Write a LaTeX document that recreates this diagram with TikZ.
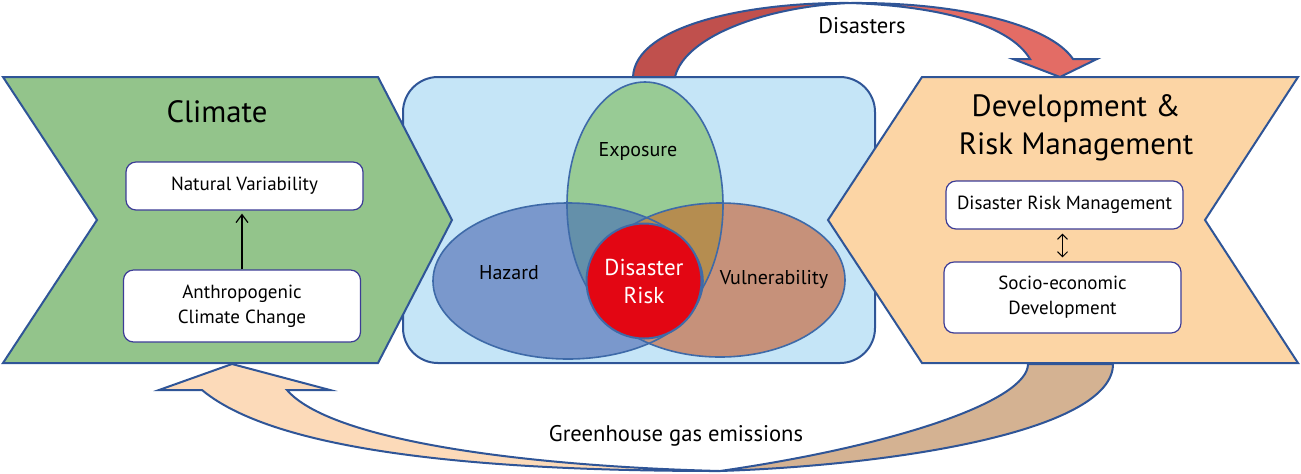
\documentclass[tikz,border=0pt]{standalone}
\usepackage{fontspec}
\setmainfont{PT Sans}
\usepackage{tikz}
\usetikzlibrary{arrows.meta}

\definecolor{edgeblue}{HTML}{2F5597}
\definecolor{vennedge}{HTML}{3E6AA8}
\definecolor{boxedge}{HTML}{3C3C96}
\definecolor{climgreen}{HTML}{93C48B}
\definecolor{devorange}{HTML}{FCD5A5}
\definecolor{riskblue}{HTML}{C5E5F7}
\definecolor{hazcol}{HTML}{7A98CC}
\definecolor{expcol}{HTML}{98CB95}
\definecolor{vulcol}{HTML}{C6917A}
\definecolor{hazexp}{HTML}{6490AA}
\definecolor{expvul}{HTML}{B58D50}
\definecolor{riskred}{HTML}{E30613}
\definecolor{disdark}{HTML}{C0504D}
\definecolor{dislight}{HTML}{E36C65}
\definecolor{ghgpeach}{HTML}{FCDAB9}
\definecolor{ghgtan}{HTML}{D4B292}

\begin{document}
\begin{tikzpicture}[x=0.5pt,y=-0.5pt,>={Straight Barb[length=4pt,width=6pt]},
  panel/.style={draw=edgeblue,line width=1pt,line join=miter},
  venn/.style={draw=vennedge,line width=0.8pt},
  factorbox/.style={draw=boxedge,fill=white,rounded corners=5pt,line width=0.6pt,
    minimum width=118.5pt,inner xsep=2pt,align=center,font=\fontsize{9.5}{12.5}\selectfont},
  vennlabel/.style={font=\fontsize{10}{12}\selectfont},
  title/.style={font=\fontsize{15.4}{19}\selectfont,align=center},
  flowlabel/.style={font=\fontsize{11.3}{13}\selectfont}]
  \useasboundingbox (0,0) rectangle (1301,473);
  % centre panel
  \draw[panel,fill=riskblue,rounded corners=17.5pt] (403,77) rectangle (875,363);
  % venn fills
  \fill[hazcol] (568,281) ellipse [x radius=135, y radius=78];
  \fill[vulcol] (720,280) ellipse [x radius=125, y radius=77];
  \fill[expcol] (645,205) ellipse [x radius=78, y radius=123];
  \begin{scope}
    \clip (568,281) ellipse [x radius=135, y radius=78];
    \fill[hazexp] (645,205) ellipse [x radius=78, y radius=123];
  \end{scope}
  \begin{scope}
    \clip (720,280) ellipse [x radius=125, y radius=77];
    \fill[expvul] (645,205) ellipse [x radius=78, y radius=123];
  \end{scope}
  % venn outlines
  \draw[venn] (568,281) ellipse [x radius=135, y radius=78];
  \draw[venn] (720,280) ellipse [x radius=125, y radius=77];
  \draw[venn] (645,205) ellipse [x radius=78, y radius=123];
  \node[vennlabel] (hazard) at (509,273) {Hazard};
  \node[vennlabel] (exposure) at (638,151) {Exposure};
  \node[vennlabel] (vulner) at (774,279) {Vulnerability};
  \node[circle,fill=riskred,draw=vennedge,line width=1pt,minimum size=57.5pt,inner sep=0pt,
    text=white,align=center,font=\fontsize{11.5}{14}\selectfont] (risk) at (644,281) {Disaster\\Risk};
  % side chevrons
  \draw[panel,fill=climgreen] (3,77) -- (378,77) -- (452,220) -- (378,363) -- (3,363) -- (97,220) -- cycle;
  \draw[panel,fill=devorange] (922,77) -- (1298,77) -- (1205,220) -- (1298,363) -- (922,363) -- (828,220) -- cycle;
  \node[title] (climate) at (217,112) {Climate};
  \node[title] (devrisk) at (1076,128) {Development \&\\Risk Management};
  % climate boxes
  \node[factorbox,minimum height=24pt] (natvar) at (244.5,186) {Natural Variability};
  \node[factorbox,minimum height=36pt] (anthro) at (242,306) {Anthropogenic\\Climate Change};
  \draw[->,line width=0.6pt,shorten >=1.5pt] (anthro.north) -- (anthro.north |- natvar.south);
  % development boxes
  \node[factorbox,minimum height=24pt] (drm) at (1064.5,205) {Disaster Risk Management};
  \node[factorbox,minimum height=35.5pt] (socio) at (1062.5,297.5) {Socio-economic\\Development};
  \draw[{Straight Barb[length=2.5pt,width=5pt]}-{Straight Barb[length=2.5pt,width=5pt]},line width=0.5pt,
    shorten <=2pt,shorten >=2pt] (socio.north) -- (socio.north |- drm.south);
  % disasters arrow
  \draw[panel,fill=disdark] (633,77) .. controls (635,25) and (750,2) .. (850,3)
    .. controls (770,6) and (685,35) .. (675,77) -- cycle;
  \draw[panel,fill=dislight] (850,3) .. controls (960,2) and (1050,25) .. (1073,59)
    -- (1097,59) -- (1060,77) -- (1013,59) -- (1030,59)
    .. controls (1010,25) and (940,6) .. (850,3) -- cycle;
  \node[flowlabel] (disasters) at (862,26) {Disasters};
  % greenhouse gas arrow
  \draw[panel,fill=ghgtan] (1113,364) .. controls (1113,430) and (900,465) .. (720,471)
    .. controls (900,445) and (1028,400) .. (1028,364) -- cycle;
  \draw[panel,fill=ghgpeach] (720,471) .. controls (500,471) and (280,455) .. (202,390)
    -- (159,390) -- (232,364) -- (330,390) -- (287,390)
    .. controls (330,440) and (520,466) .. (720,471) -- cycle;
  \node[flowlabel] (ghg) at (676,436) {Greenhouse gas emissions};
\end{tikzpicture}
\end{document}
